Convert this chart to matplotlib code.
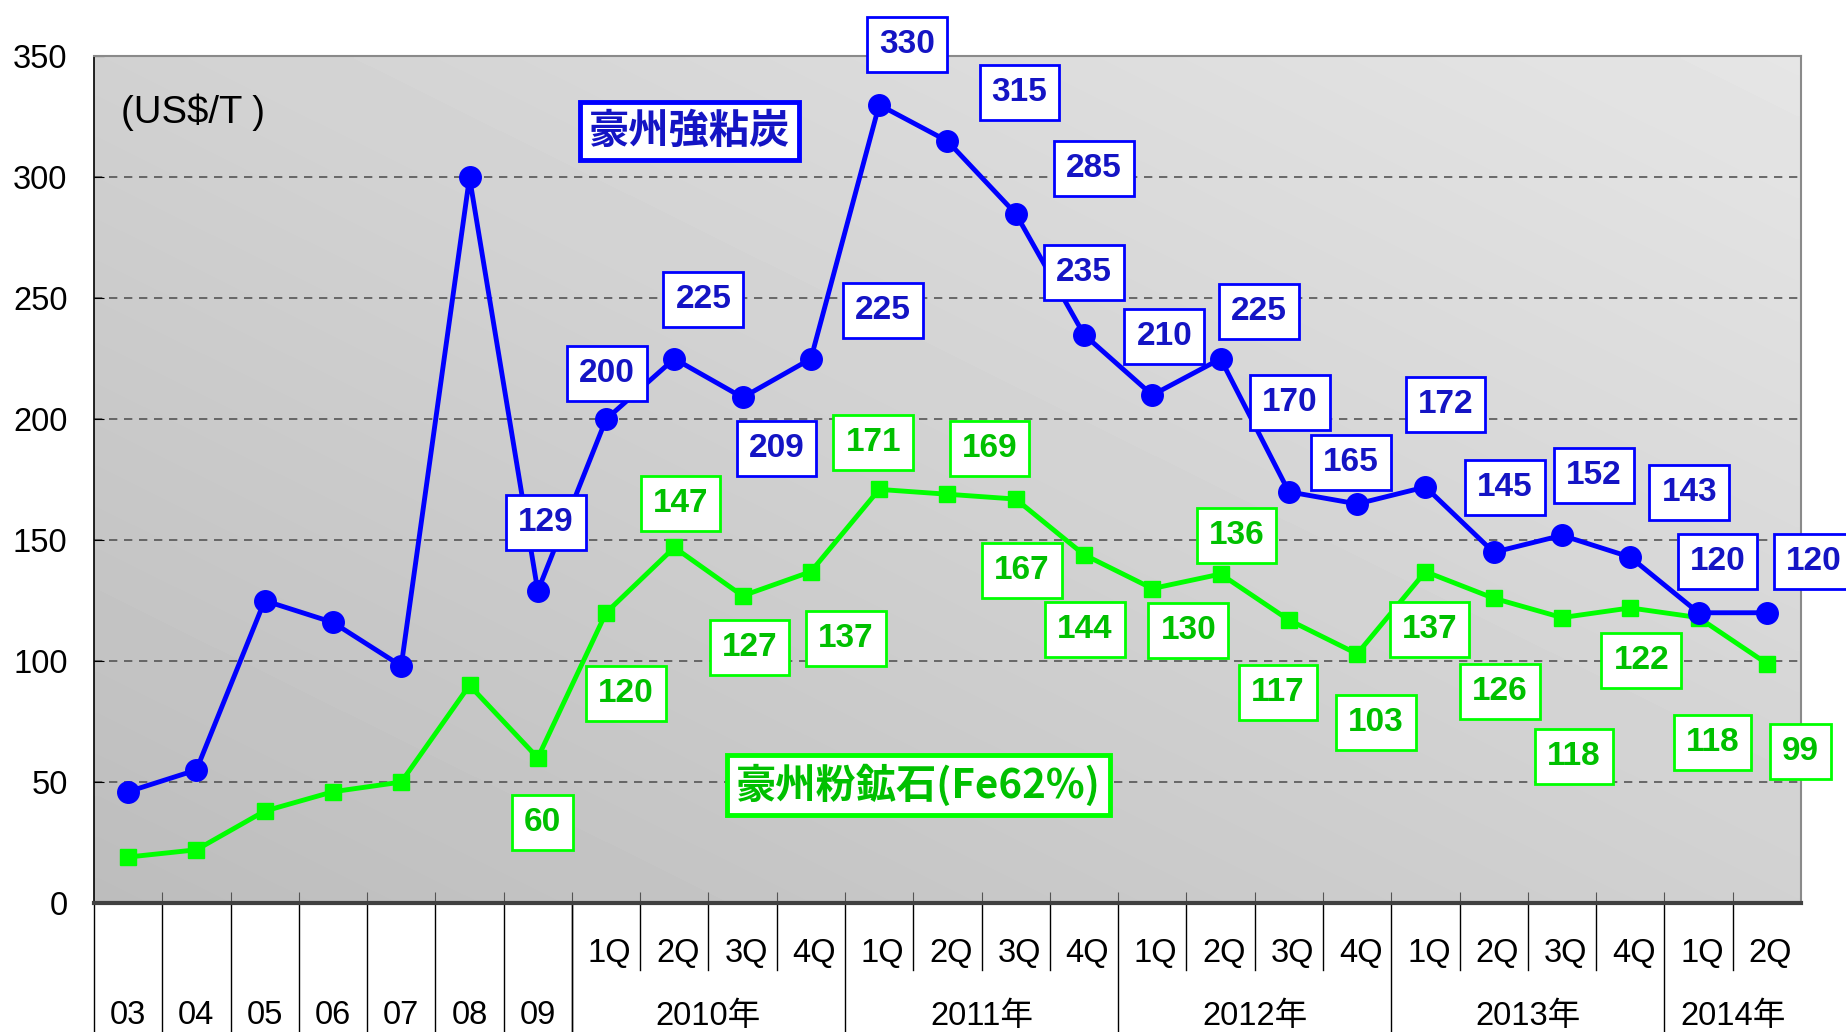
"""Australian coking coal vs iron ore fines price chart (US$/T)."""
import numpy as np
import matplotlib

matplotlib.use("Agg")
import matplotlib.pyplot as plt  # noqa: E402

LATIN = "Liberation Sans"
CJK = "Noto Sans CJK JP"
FONTS = [LATIN, CJK]
plt.rcParams["font.family"] = FONTS

# ---- data -------------------------------------------------------------
ANNUAL_LABELS = ["03", "04", "05", "06", "07", "08", "09"]
QUARTER_LABELS = ["1Q", "2Q", "3Q", "4Q"] * 4 + ["1Q", "2Q"]
YEAR_LABELS = ["2010年", "2011年", "2012年", "2013年", "2014年"]
YEAR_QUARTERS = [4, 4, 4, 4, 2]

coal = [46, 55, 125, 116, 98, 300, 129,
        200, 225, 209, 225,
        330, 315, 285, 235,
        210, 225, 170, 165,
        172, 145, 152, 143,
        120, 120]
ore = [19, 22, 38, 46, 50, 90, 60,
       120, 147, 127, 137,
       171, 169, 167, 144,
       130, 136, 117, 103,
       137, 126, 118, 122,
       118, 99]
LABEL_FROM = 6  # value boxes start at "09"

# label box offsets (pixels) for each labelled point
coal_off = [(8, 68), (1, 46), (29, 59), (34, -51), (72, 48), (28, 60), (72, 49),
            (78, 45), (0, 62), (12, 59), (38, 47), (1, 89), (-6, 41), (20, 82),
            (11, 65), (32, 60), (59, 65), (19, 51), (47, 51)]
ore_off = [(5, -65), (20, -81), (6, 44), (7, -52), (35, -67), (-6, 47), (42, 46),
           (6, -71), (1, -75), (36, -42), (16, 39), (-11, -72), (19, -69), (4, -58),
           (6, -93), (12, -139), (11, -53), (14, -125), (34, -88)]

BLUE = "#0000FF"
BLUE_TXT = "#1414C4"
GREEN = "#00FF00"
GREEN_TXT = "#00C000"

n = len(coal)
x = np.arange(n)

fig = plt.figure(figsize=(18.46, 10.32), dpi=100)
ax = fig.add_axes([0.0509, 0.125, 0.9247, 0.8203])

# diagonal grey gradient background
gx, gy = np.meshgrid(np.linspace(0, 1, 200), np.linspace(0, 1, 200))
grad = 0.74 + 0.08 * gx + 0.08 * gy
ax.imshow(grad, cmap="gray", vmin=0, vmax=1, extent=[0, 1, 0, 1], origin="lower",
          transform=ax.transAxes, aspect="auto", zorder=0, interpolation="bilinear")

for v in range(50, 350, 50):
    ax.axhline(v, color="#555555", lw=1.2, ls=(0, (5, 4)), zorder=1)

ax.plot(x, coal, color=BLUE, lw=3.5, marker="o", ms=15.5, zorder=4)
ax.plot(x, ore, color=GREEN, lw=3.5, marker="s", ms=12, zorder=3)

for i in range(LABEL_FROM, n):
    k = i - LABEL_FROM
    ax.annotate(str(coal[i]), xy=(i, coal[i]), xytext=coal_off[k], textcoords="offset pixels",
                ha="center", va="center", fontsize=24, fontweight="bold", color=BLUE_TXT,
                family=FONTS, annotation_clip=False, zorder=6,
                bbox=dict(boxstyle="square,pad=0.36", fc="white", ec=BLUE, lw=2))
    ax.annotate(str(ore[i]), xy=(i, ore[i]), xytext=ore_off[k], textcoords="offset pixels",
                ha="center", va="center", fontsize=24, fontweight="bold", color=GREEN_TXT,
                family=FONTS, annotation_clip=False, zorder=5,
                bbox=dict(boxstyle="square,pad=0.36", fc="white", ec=GREEN, lw=2))

# series name boxes
ax.text(0.349, 0.912, "豪州強粘炭", transform=ax.transAxes, ha="center", va="center",
        fontsize=29, fontweight="bold", color=BLUE_TXT, family=[CJK, LATIN], zorder=7,
        bbox=dict(boxstyle="square,pad=0.22", fc="white", ec=BLUE, lw=3.5))
ax.text(0.483, 0.139, "豪州粉鉱石(Fe62%)", transform=ax.transAxes, ha="center", va="center",
        fontsize=29, fontweight="bold", color=GREEN_TXT, family=[CJK, LATIN], zorder=7,
        bbox=dict(boxstyle="square,pad=0.22", fc="white", ec=GREEN, lw=3.5))
ax.text(0.016, 0.934, "(US$/T )", transform=ax.transAxes, ha="left", va="center",
        fontsize=27.5, color="black", family=FONTS, zorder=7)

ax.set_xlim(-0.5, n - 0.5)
ax.set_ylim(0, 350)
ax.set_yticks(range(0, 351, 50))
ax.tick_params(axis="y", direction="in", length=7, labelsize=23.5, pad=19)

bounds = np.arange(0.5, n - 0.5, 1.0)
ax.set_xticks(bounds)
ax.set_xticklabels([])
ax.tick_params(axis="x", direction="in", length=8, color="#555555")

for s in ["top", "right"]:
    ax.spines[s].set_color("#8a8a8a")
    ax.spines[s].set_linewidth(1.5)
ax.spines["left"].set_color("black")
ax.spines["left"].set_linewidth(1.2)
ax.spines["bottom"].set_color("#404040")
ax.spines["bottom"].set_linewidth(3)

# two-row category axis
trans = ax.get_xaxis_transform()
ax_h = ax.get_position().height * fig.get_figheight() * fig.dpi
short_y = -67 / ax_h
long_y = -140 / ax_h
row1 = -50 / ax_h
row2 = -113 / ax_h

year_edges = [len(ANNUAL_LABELS) - 0.5]
for q in YEAR_QUARTERS:
    year_edges.append(year_edges[-1] + q)
full_lines = [-0.5] + [b for b in bounds if b < len(ANNUAL_LABELS)] + year_edges[:-1]
short_lines = [b for b in bounds if b > len(ANNUAL_LABELS) and b not in year_edges]
for b in full_lines:
    ax.plot([b, b], [0, long_y], transform=trans, color="black", lw=1, clip_on=False)
for b in short_lines:
    ax.plot([b, b], [0, short_y], transform=trans, color="black", lw=1, clip_on=False)

for i, lab in enumerate(ANNUAL_LABELS):
    ax.text(i, row2, lab, transform=trans, ha="center", va="center", fontsize=23.5)
for i, lab in enumerate(QUARTER_LABELS):
    ax.text(len(ANNUAL_LABELS) + i + 0.05, row1, lab, transform=trans, ha="center",
            va="center", fontsize=23.5)
for k, lab in enumerate(YEAR_LABELS):
    mid = (year_edges[k] + year_edges[k + 1]) / 2
    ax.text(mid, row2, lab, transform=trans, ha="center", va="center", fontsize=23.5,
            family=FONTS)

fig.savefig("out.png", dpi=100)
